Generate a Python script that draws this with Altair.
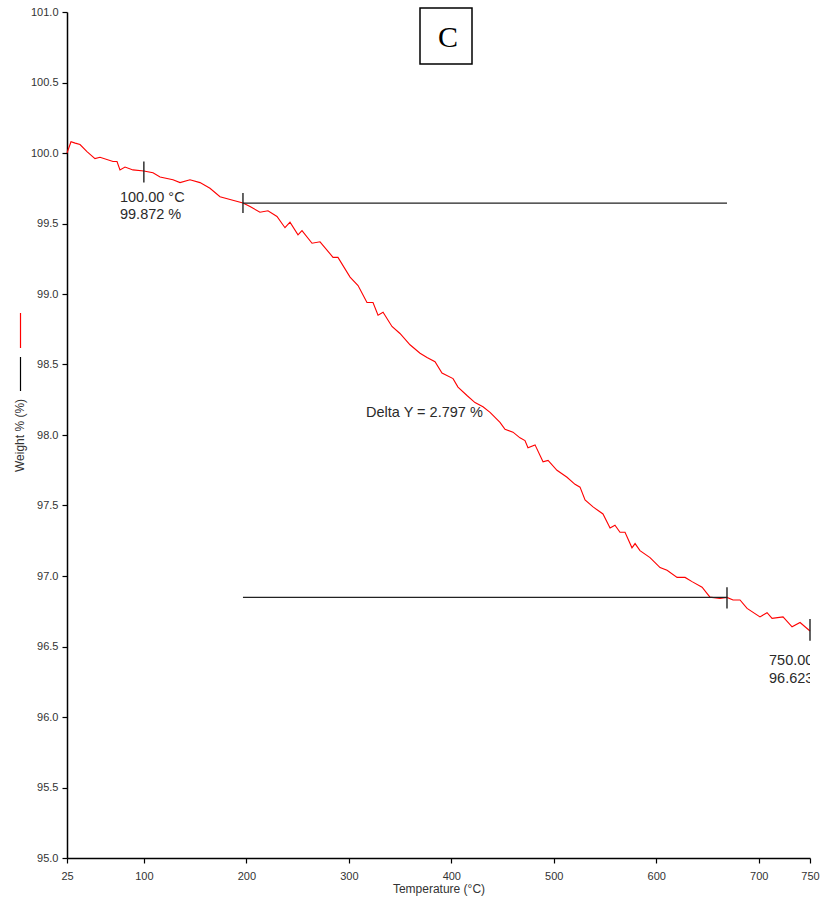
import altair as alt
import pandas as pd

# Curve: temperature (°C) and weight (%)
temperature = [25.0, 28.9, 33.0, 37.7, 44.5, 52.3, 57.2, 69.9, 73.8, 76.7, 81.6, 89.4,
               100.0, 108.9, 115.8, 128.4, 135.3, 145.0, 154.8, 164.5, 174.3, 184.1,
               196.7, 203.6, 213.3, 221.1, 229.9, 237.7, 242.6, 250.4, 254.3, 264.1,
               271.9, 284.6, 289.4, 301.2, 309.0, 317.7, 323.6, 328.5, 333.4, 342.1,
               349.9, 359.7, 369.5, 376.3, 384.1, 390.9, 401.7, 406.5, 415.3, 423.1,
               430.9, 437.8, 447.5, 452.4, 460.2, 467.0, 471.9, 474.8, 481.7, 489.5,
               494.4, 503.1, 512.9, 520.7, 525.6, 530.5, 538.3, 548.0, 554.9, 559.7,
               564.6, 569.5, 576.3, 579.3, 584.1, 593.9, 603.7, 610.5, 620.3, 628.1,
               634.9, 644.7, 652.4, 662.2, 669.0, 674.9, 681.7, 688.6, 701.2, 708.1,
               713.0, 723.7, 732.5, 740.3, 750.0]
weight = [100.00, 100.08, 100.07, 100.06, 100.01, 99.96, 99.97, 99.94, 99.94, 99.88, 99.90, 99.88,
          99.872, 99.86, 99.83, 99.81, 99.79, 99.81, 99.79, 99.75, 99.69, 99.67,
          99.645, 99.62, 99.58, 99.59, 99.55, 99.47, 99.51, 99.42, 99.45, 99.36,
          99.37, 99.26, 99.26, 99.12, 99.06, 98.94, 98.94, 98.85, 98.87, 98.77,
          98.72, 98.64, 98.58, 98.55, 98.52, 98.44, 98.40, 98.34, 98.28, 98.23,
          98.20, 98.16, 98.09, 98.04, 98.02, 97.98, 97.96, 97.91, 97.93, 97.81,
          97.82, 97.75, 97.70, 97.65, 97.63, 97.54, 97.49, 97.44, 97.34, 97.36,
          97.31, 97.31, 97.20, 97.23, 97.18, 97.13, 97.06, 97.04, 96.99, 96.99,
          96.96, 96.92, 96.85, 96.84, 96.848, 96.83, 96.83, 96.77, 96.71, 96.74,
          96.70, 96.71, 96.64, 96.67, 96.61]

# Delta-Y step lines
step_start = [196.7, 196.7]
step_end = [669.0, 669.0]
step_level = [99.645, 96.848]

# Marker ticks (vertical)
mark_t = [100.0, 196.7, 669.0, 750.0]
mark_lo = [99.79, 99.574, 96.77, 96.54]
mark_hi = [99.94, 99.716, 96.92, 96.695]

# Annotation texts
label_text = ["100.00 °C", "99.872 %", "750.00 °C", "96.623 %", "Delta Y = 2.797 %"]
label_t = [76.7, 76.7, 710.0, 710.0, 316.8]
label_w = [99.68, 99.56, 96.397, 96.27, 98.156]

x_ticks = [25, 100, 200, 300, 400, 500, 600, 700, 750]
y_ticks = [95.0, 95.5, 96.0, 96.5, 97.0, 97.5, 98.0, 98.5, 99.0, 99.5, 100.0, 100.5, 101.0]

FONT = "Liberation Sans"

curve_df = pd.DataFrame({"T": temperature, "W": weight})
step_df = pd.DataFrame({"T1": step_start, "T2": step_end, "W": step_level})
mark_df = pd.DataFrame({"T": mark_t, "lo": mark_lo, "hi": mark_hi})
label_df = pd.DataFrame({"T": label_t, "W": label_w, "txt": label_text})
one_df = pd.DataFrame({"k": [0]})

xscale = alt.Scale(domain=[25, 750], nice=False, zero=False)
yscale = alt.Scale(domain=[95, 101], nice=False, zero=False)

xaxis = alt.Axis(values=x_ticks, title="Temperature (°C)", grid=False,
                 labelPadding=7, titlePadding=2, labelFlush=False, labelOverlap=False)
yaxis = alt.Axis(values=y_ticks, format=".1f", title="Weight % (%)", grid=False,
                 labelPadding=4, titlePadding=4, labelFlush=False, labelOverlap=False)

curve = alt.Chart(curve_df).mark_line(color="#ff0000", strokeWidth=1.1).encode(
    x=alt.X("T:Q", scale=xscale, axis=xaxis),
    y=alt.Y("W:Q", scale=yscale, axis=yaxis),
)

steps = alt.Chart(step_df).mark_rule(color="#222222", strokeWidth=1.2).encode(
    x=alt.X("T1:Q", scale=xscale), x2="T2:Q", y=alt.Y("W:Q", scale=yscale)
)

marks = alt.Chart(mark_df).mark_rule(color="#222222", strokeWidth=1.4).encode(
    x=alt.X("T:Q", scale=xscale), y=alt.Y("lo:Q", scale=yscale), y2="hi:Q"
)

labels = alt.Chart(label_df).mark_text(
    align="left", baseline="middle", font=FONT, fontSize=14.5, color="#2a2a2a", clip=True
).encode(
    x=alt.X("T:Q", scale=xscale), y=alt.Y("W:Q", scale=yscale), text="txt:N"
)

box = alt.Chart(one_df).mark_rect(fill="white", stroke="black", strokeWidth=1.5, clip=False).encode(
    x=alt.value(353), x2=alt.value(405), y=alt.value(-4), y2=alt.value(52)
)
box_text = alt.Chart(one_df).mark_text(
    text="C", font="Liberation Serif", fontSize=30, color="black",
    align="center", baseline="middle", clip=False
).encode(x=alt.value(381), y=alt.value(26))

leg_red = alt.Chart(one_df).mark_rule(color="#ff0000", strokeWidth=1.2, clip=False).encode(
    x=alt.value(-46.5), y=alt.value(301), y2=alt.value(336)
)
leg_black = alt.Chart(one_df).mark_rule(color="black", strokeWidth=1.2, clip=False).encode(
    x=alt.value(-46.5), y=alt.value(345), y2=alt.value(379)
)

chart = alt.layer(curve, steps, marks, labels, box, box_text, leg_red, leg_black).properties(
    width=743, height=846,
    background="white",
    autosize=alt.AutoSizeParams(type="none"),
    padding={"left": 67, "top": 12, "right": 19, "bottom": 44},
).configure_view(stroke=None).configure_axis(
    domainColor="black", domainWidth=1.5, tickColor="black", tickWidth=1.2, tickSize=5,
    labelFont=FONT, labelFontSize=11, labelColor="#333333",
    titleFont=FONT, titleFontSize=12, titleFontWeight="normal", titleColor="#333333",
)

chart.save("out.html", embed_options={"renderer": "svg", "actions": False})
